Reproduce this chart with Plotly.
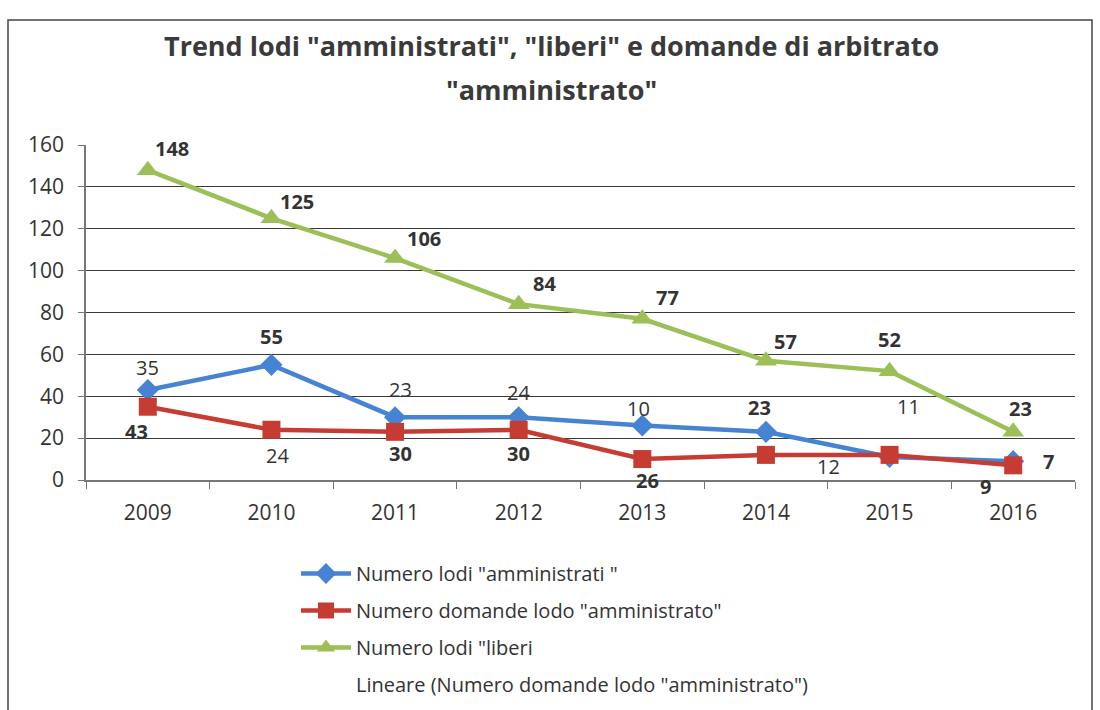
import plotly.graph_objects as go

# Anni e serie
anni = ["2009", "2010", "2011", "2012", "2013", "2014", "2015", "2016"]
lodi_amministrati = [43, 55, 30, 30, 26, 23, 11, 9]
domande_amministrato = [35, 24, 23, 24, 10, 12, 12, 7]
lodi_liberi = [148, 125, 106, 84, 77, 57, 52, 23]

nome_blu = 'Numero lodi "amministrati "'
nome_rosso = 'Numero domande lodo "amministrato"'
nome_verde = 'Numero lodi "liberi'
nome_trend = 'Lineare (Numero domande lodo "amministrato")'

titolo_righe = ['Trend lodi "amministrati", "liberi" e domande di arbitrato',
                '"amministrato"']

# Colori
BLU = "#4683D3"
ROSSO = "#C63C33"
VERDE = "#9CBF57"
TESTO = "#333333"
FONT = "Open Sans"

# Posizionamento delle etichette (spostamento in px, grassetto) per ogni punto
etich_blu = [(-11, 42, True), (0, -28, True), (5, 36, True), (0, 36, True),
             (5, 55, True), (-6, -24, True), (19, -50, False), (-28, 25, True)]
etich_rosso = [(0, -39, False), (6, 26, False), (5, -42, False), (0, -37, False),
               (-4, -51, False), (63, 12, False), None, (35, -4, True)]
etich_verde = [(24, -22, True), (26, -17, True), (29, -20, True), (26, -21, True),
               (25, -21, True), (20, -19, True), (0, -32, True), (7, -23, True)]

fig = go.Figure()

fig.add_trace(go.Scatter(
    x=anni, y=lodi_amministrati, name=nome_blu, mode="lines+markers",
    line=dict(color=BLU, width=4.5),
    marker=dict(symbol="diamond", size=17, color=BLU),
    legendgroup="a",
))
fig.add_trace(go.Scatter(
    x=anni, y=domande_amministrato, name=nome_rosso, mode="lines+markers",
    line=dict(color=ROSSO, width=4.5),
    marker=dict(symbol="square", size=18, color=ROSSO),
    legendgroup="b",
))
fig.add_trace(go.Scatter(
    x=anni, y=lodi_liberi, name=nome_verde, mode="lines+markers",
    line=dict(color=VERDE, width=4.5),
    marker=dict(symbol="triangle-up", size=19, color=VERDE),
    legendgroup="c",
))
# Voce di legenda della linea di tendenza (non visibile nell'area del grafico)
fig.add_trace(go.Scatter(
    x=[None], y=[None], name=nome_trend, mode="lines",
    line=dict(color="rgba(0,0,0,0)", width=2),
    legendgroup="d",
))

annotazioni = []
for valori, stili in ((lodi_amministrati, etich_blu),
                      (domande_amministrato, etich_rosso),
                      (lodi_liberi, etich_verde)):
    for i, (v, st) in enumerate(zip(valori, stili)):
        if st is None:
            continue
        dx, dy, grassetto = st
        testo = f"<b>{v}</b>" if grassetto else str(v)
        # x come indice di categoria sull'asse
        annotazioni.append(dict(
            x=i, y=v, xref="x", yref="y", text=testo, showarrow=False,
            xshift=dx, yshift=-dy,
            font=dict(family=FONT, size=20, color=TESTO),
        ))

# Geometria dell'area del tracciato (px)
W, H = 1100, 710
L, R, T, B = 86, 1075, 145, 480
pw, ph = R - L, B - T


def px_x(p):
    return (p - L) / pw


def px_y(p):
    return (B - p) / ph


# Titolo su due righe
for riga, py in zip(titolo_righe, (45, 89)):
    annotazioni.append(dict(
        x=px_x(551), y=px_y(py), xref="paper", yref="paper", showarrow=False,
        text=f"<b>{riga}</b>", align="center",
        font=dict(family=FONT, size=27, color="#3a3a3a"),
        xanchor="center", yanchor="middle",
    ))

fig.update_layout(
    width=W, height=H,
    margin=dict(l=L, r=W - R, t=T, b=H - B, autoexpand=False),
    paper_bgcolor="white", plot_bgcolor="white",
    annotations=annotazioni,
    showlegend=True,
    legend=dict(
        x=px_x(296), y=px_y(554), xanchor="left", yanchor="top",
        font=dict(family=FONT, size=20, color=TESTO),
        tracegroupgap=8, itemwidth=50,
        bgcolor="rgba(0,0,0,0)",
    ),
    shapes=[dict(
        type="rect", xref="paper", yref="paper",
        x0=px_x(8), x1=px_x(1092), y0=px_y(720), y1=px_y(20),
        line=dict(color="#444444", width=1.5), fillcolor="rgba(0,0,0,0)",
        layer="below",
    )],
)

fig.update_xaxes(
    type="category", tickson="boundaries", ticks="outside", ticklen=7,
    tickcolor="#777777", showline=True, linecolor="#777777", linewidth=1.5,
    showgrid=False, tickfont=dict(family=FONT, size=21, color=TESTO),
    ticklabelstandoff=13, range=[-0.5, 7.5], fixedrange=True,
)
fig.update_yaxes(
    range=[0, 160], dtick=20, ticks="outside", ticklen=6, tickcolor="#777777",
    showline=True, linecolor="#777777", linewidth=1.5,
    showgrid=True, gridcolor="#3c3c3c", gridwidth=1.4, zeroline=False,
    tickfont=dict(family=FONT, size=21, color=TESTO),
    ticklabelstandoff=10, fixedrange=True,
)

fig.write_html("out.html")
